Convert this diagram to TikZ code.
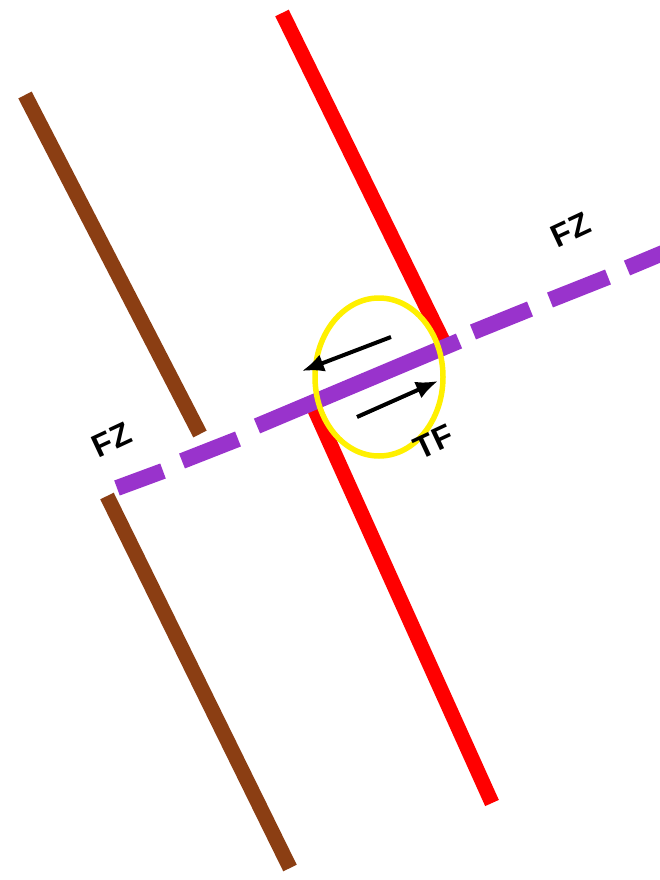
\documentclass[tikz,border=0pt]{standalone}
\usepackage{fontspec}
\setmainfont{Liberation Sans}
\usetikzlibrary{arrows.meta,shapes.geometric}
\definecolor{fzpurple}{RGB}{153,51,204}
\definecolor{fbrown}{RGB}{139,62,19}
\definecolor{fred}{RGB}{255,0,0}
\definecolor{fyellow}{RGB}{255,240,0}
\begin{document}
\begin{tikzpicture}[x=1pt,y=-1pt,
  brownfault/.style={line width=15pt,draw=fbrown},
  redfault/.style={line width=15pt,draw=fred},
  fzdash/.style={line width=16pt,draw=fzpurple},
  ringmark/.style={line width=5.5pt,draw=fyellow},
  motion/.style={line width=4pt,draw=black,-{Latex[length=22pt,width=18pt]}},
  lbl/.style={font=\fontsize{32}{32}\selectfont\bfseries,text=black,rotate=25,inner sep=0pt}]
\fill[white] (0,0) rectangle (659,880);
\useasboundingbox (0,0) rectangle (659,880);
% brown faults
\draw[brownfault] (25,95) -- (200,434);
\draw[brownfault] (107,496) -- (290,868);
% red faults
\draw[redfault] (282,13) -- (445,345);
\draw[redfault] (314,408) -- (492,803);
% purple fault zone
\draw[fzdash] (117,488) -- (163,471);
\draw[fzdash] (182,461) -- (238,439);
\draw[fzdash] (257,426) -- (459,341);
\draw[fzdash] (473,332) -- (530,309);
\draw[fzdash] (550,300) -- (608,277);
\draw[fzdash] (627,268) -- (670,250);
% yellow ring
\node[ringmark,ellipse,minimum width=128pt,minimum height=158pt,inner sep=0pt] (ring) at (379,377) {};
% arrows
\coordinate (a1s) at (391,337);
\coordinate (a1e) at (302,371);
\coordinate (a2s) at (357,417);
\coordinate (a2e) at (438,381);
\draw[motion] (a1s) -- (a1e);
\draw[motion] (a2s) -- (a2e);
% labels
\node[lbl] (fzr) at (571,230) {FZ};
\node[lbl] (fzl) at (112,440) {FZ};
\node[lbl] (tf) at (434,442) {TF};
\end{tikzpicture}
\end{document}
